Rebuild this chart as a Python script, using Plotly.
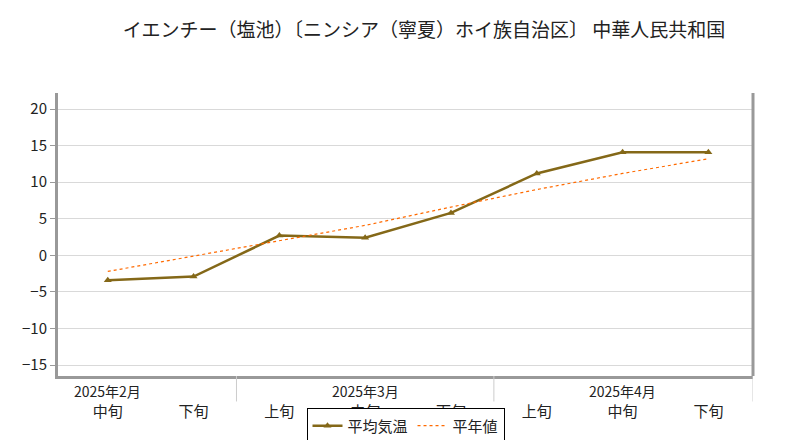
import plotly.graph_objects as go

ticks = ["中旬", "下旬", "上旬", "中旬", "下旬", "上旬", "中旬", "下旬"]
months = ["2025年2月", "2025年3月", "2025年4月"]
month_pos = [0, 3, 6]
avg_temp = [-3.4, -2.9, 2.7, 2.4, 5.8, 11.2, 14.1, 14.1]
normal = [-2.2, -0.1, 2.0, 4.1, 6.6, 9.0, 11.2, 13.2]
x = list(range(len(ticks)))

font = "Noto Sans CJK JP, DejaVu Sans"
fig = go.Figure()
fig.add_trace(go.Scatter(x=x, y=avg_temp, name="平均気温", mode="lines+markers",
                         line=dict(color="#846818", width=2.5),
                         marker=dict(symbol="triangle-up", size=7, color="#846818")))
fig.add_trace(go.Scatter(x=x, y=normal, name="平年値", mode="lines",
                         line=dict(color="#ff6a00", width=1.2, dash="dot")))

for xi, m in zip(month_pos, months):
    fig.add_annotation(x=xi, y=-0.01, xref="x", yref="paper", text=m, showarrow=False,
                       yanchor="top", font=dict(size=14, color="#222"))
for xs in [1.5, 4.5, 7.52]:
    fig.add_shape(type="line", x0=xs, x1=xs, xref="x", yref="paper", y0=0, y1=-0.09,
                  line=dict(color="#cccccc", width=1))

fig.add_annotation(x=-50, xref="x domain", y=1.16, yref="paper", text="気温<br>(℃)", showarrow=False,
                   xanchor="left", yanchor="top", align="center", font=dict(size=16, color="#222"))
fig.add_annotation(x=1.0, y=-0.24, xref="paper", yref="paper", text="<b>CPD/JMA</b>", showarrow=False,
                   xanchor="right", yanchor="top", font=dict(size=10, color="#222", family="DejaVu Sans Mono"))

fig.update_layout(
    width=800, height=440, plot_bgcolor="white", paper_bgcolor="white",
    font=dict(family=font, size=15, color="#222"),
    title=dict(text="イエンチー（塩池）〔ニンシア（寧夏）ホイ族自治区〕 中華人民共和国",
               x=0.52, xanchor="center", y=0.95, yanchor="middle", font=dict(size=19)),
    margin=dict(l=50, r=55, t=85, b=72, autoexpand=False),
    xaxis=dict(tickmode="array", tickvals=x, ticktext=["<br>" + t for t in ticks],
               range=[-0.58, 7.52], showgrid=False, zeroline=False, ticks="",
               showline=True, linecolor="#999", linewidth=3, mirror=False),
    yaxis=dict(range=[-16.5, 22.2], dtick=5, gridcolor="#d9d9d9", zeroline=False,
               showline=True, linecolor="#999", linewidth=3, ticks="outside", ticklen=5,
               tickcolor="#999"),
    legend=dict(orientation="h", x=0.5, xanchor="center", y=0.09, yref="container", yanchor="top",
                bordercolor="black", borderwidth=1, font=dict(size=15)),
)
fig.add_shape(type="line", x0=1, x1=1, xref="paper", y0=0, y1=1, yref="paper",
              line=dict(color="#999", width=3))
fig.write_html("out.html")
